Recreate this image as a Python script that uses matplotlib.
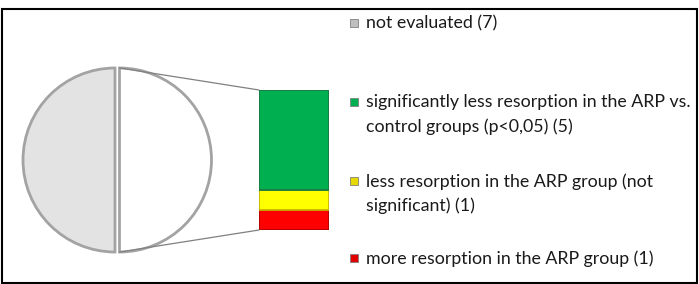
import matplotlib.pyplot as plt
from matplotlib.patches import Rectangle, ConnectionPatch

# pie: not evaluated vs. evaluated (split in the bar)
pie_labels = ['not evaluated', 'evaluated']
pie_values = [7, 7]
pie_colors = ['#e3e3e3', '#ffffff']

# bar of pie, bottom to top
bar_labels = ['more resorption', 'less resorption (n.s.)', 'significantly less resorption']
bar_values = [1, 1, 5]
bar_colors = ['#ff0000', '#ffff00', '#00b050']
bar_edges = ['#b00000', '#c8b400', '#1b7a43']

# legend, top to bottom
legend_texts = ['not evaluated (7)',
                'significantly less resorption in the ARP vs.\ncontrol groups (p<0,05) (5)',
                'less resorption in the ARP group (not\nsignificant) (1)',
                'more resorption in the ARP group (1)']
legend_colors = ['#bfbfbf', '#00b050', '#e6d800', '#e00000']

W, H = 699, 284
fig = plt.figure(figsize=(W / 100, H / 100), dpi=100)
ax = fig.add_axes([0, 0, 1, 1])

# explode is in data units (pixels here)
wedges, _ = ax.pie(pie_values, colors=pie_colors, startangle=90, center=(117, 160),
                   radius=92, explode=[2, 2.5], frame=True,
                   wedgeprops=dict(edgecolor='#a3a3a3', linewidth=2.0))
ax.set_xlim(0, W)
ax.set_ylim(H, 0)
ax.set_aspect('auto')
ax.axis('off')

# outer frame
ax.add_patch(Rectangle((2, 9), 695, 274, fill=False, edgecolor='black', linewidth=1.5))

# stacked bar
bax = fig.add_axes([259 / W, (H - 230) / H, 70 / W, 140 / H])
bottom = 0
for v, c, e in zip(bar_values, bar_colors, bar_edges):
    bax.bar(0, v, bottom=bottom, width=1, color=c, edgecolor=e, linewidth=1.3)
    bottom += v
bax.set_xlim(-0.5, 0.5)
bax.set_ylim(0, sum(bar_values))
bax.axis('off')

# connector lines from the evaluated wedge to the bar
w = wedges[1]
cx, cy = w.center
for sign, yb in [(-1, sum(bar_values)), (1, 0)]:
    con = ConnectionPatch(xyA=(cx, cy + sign * w.r), coordsA=ax.transData,
                          xyB=(-0.5, yb), coordsB=bax.transData,
                          color='#808080', linewidth=0.9)
    fig.add_artist(con)

# legend
legend_y = [23, 102, 181, 258]
for t, c, y in zip(legend_texts, legend_colors, legend_y):
    ax.add_patch(Rectangle((350, y - 4), 8, 8, facecolor=c, edgecolor='#808080', linewidth=0.6))
    ax.text(366, y - 8, t, family='Lato', fontsize=12.8, color='#1a1a1a',
            va='top', ha='left', linespacing=1.6)

fig.savefig('out.png', dpi=100)
